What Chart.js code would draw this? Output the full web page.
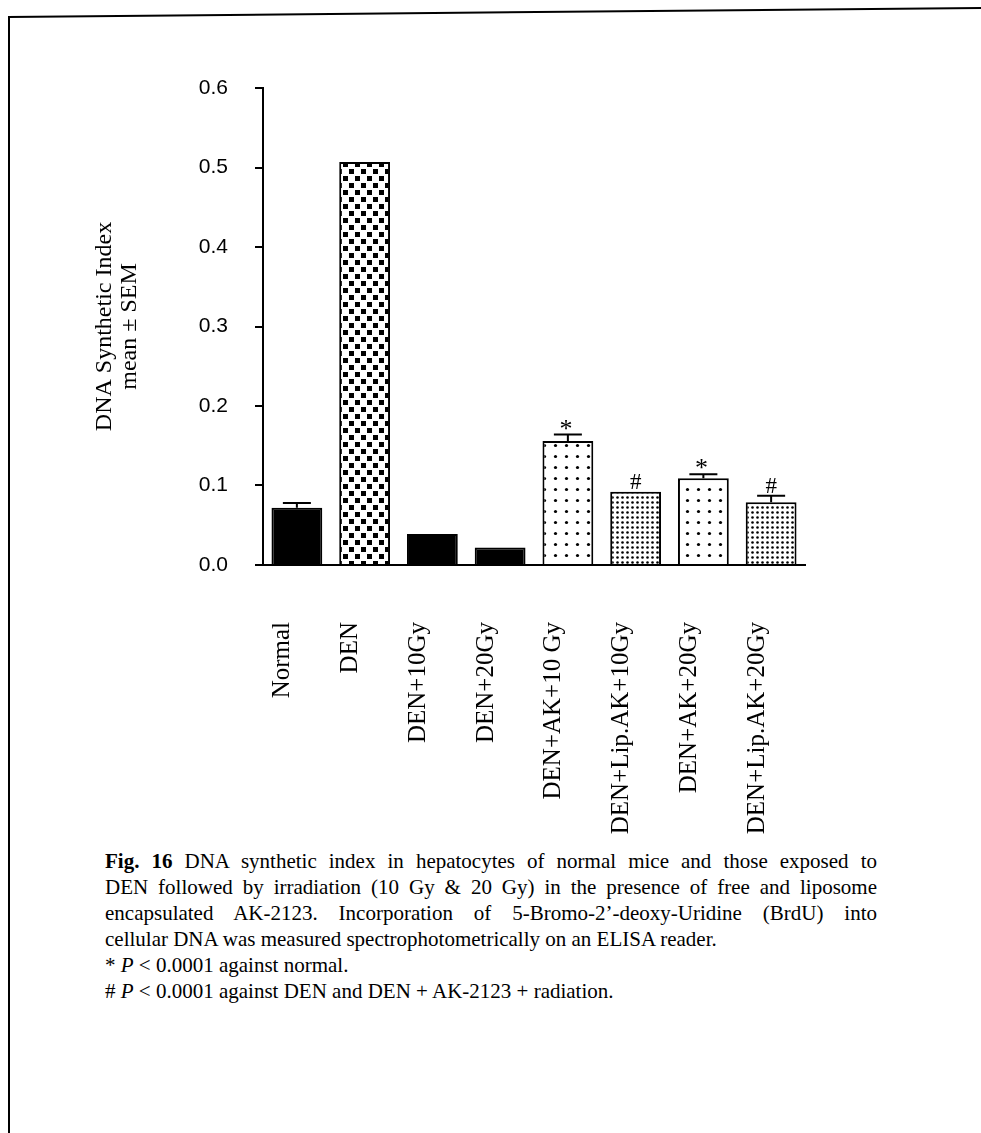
<!DOCTYPE html>
<html>
<head>
<meta charset="utf-8">
<script src="https://cdn.jsdelivr.net/npm/chart.js@4/dist/chart.umd.min.js"></script>
<style>
  body { margin: 0; background: #fff; width: 981px; height: 1133px; position: relative; overflow: hidden; }
  #chartDNA { position: absolute; left: 0; top: 0; }
  .frame-top { position: absolute; left: 8px; top: 16px; width: 980px; height: 2px; background: #000; transform-origin: 0 50%; transform: rotate(-0.53deg); }
  .frame-left { position: absolute; left: 8px; top: 16px; width: 2px; height: 1117px; background: #000; }
  .caption { position: absolute; left: 105px; top: 848px; width: 772px; font-family: "Liberation Serif", "Times New Roman", serif; font-size: 21px; line-height: 26px; color: #000; }
  .caption div { white-space: nowrap; }
  .caption .j { text-align: justify; text-align-last: justify; white-space: normal; }
</style>
</head>
<body>
<div class="frame-top"></div>
<div class="frame-left"></div>
<canvas id="chartDNA" width="981" height="846"></canvas>
<div class="caption">
  <div class="j"><b>Fig. 16</b> DNA synthetic index in hepatocytes of normal mice and those exposed to</div>
  <div class="j">DEN followed by irradiation (10 Gy &amp; 20 Gy) in the presence of free and liposome</div>
  <div class="j">encapsulated AK-2123. Incorporation of 5-Bromo-2’-deoxy-Uridine (BrdU) into</div>
  <div>cellular DNA was measured spectrophotometrically on an ELISA reader.</div>
  <div>* <i>P</i> &lt; 0.0001 against normal.</div>
  <div># <i>P</i> &lt; 0.0001 against DEN and DEN + AK-2123 + radiation.</div>
</div>
<script>
const groups = [
  "Normal",
  "DEN",
  "DEN+10Gy",
  "DEN+20Gy",
  "DEN+AK+10 Gy",
  "DEN+Lip.AK+10Gy",
  "DEN+AK+20Gy",
  "DEN+Lip.AK+20Gy",
];
const dnaIndex = [0.072, 0.507, 0.039, 0.022, 0.156, 0.092, 0.109, 0.079];
const sem = [0.006, 0, 0, 0, 0.008, 0, 0.005, 0.008];
const marks = ["", "", "", "", "*", "#", "*", "#"];
const fills = ["solid", "squares", "solid", "solid", "sparse", "dense", "sparse", "dense"];
const yTicks = [0, 0.1, 0.2, 0.3, 0.4, 0.5, 0.6];

const serif = '"Liberation Serif", "Times New Roman", serif';
const sans = '"Liberation Sans", Arial, sans-serif';

const makePattern = (w, h, draw) => {
  const c = document.createElement("canvas");
  c.width = w;
  c.height = h;
  const g = c.getContext("2d");
  g.fillStyle = "#fff";
  g.fillRect(0, 0, w, h);
  g.fillStyle = "#000";
  draw(g);
  return g.createPattern(c, "repeat");
};

const dot = (g, x, y, r) => {
  g.beginPath();
  g.arc(x, y, r, 0, Math.PI * 2);
  g.fill();
};

const patterns = {
  solid: "#000",
  squares: makePattern(12, 14, (g) => {
    g.fillRect(1, 1, 5, 5);
    g.fillRect(7, 8, 5, 5);
  }),
  sparse: makePattern(11, 11, (g) => dot(g, 5.5, 5.5, 1.6)),
  dense: makePattern(5, 5, (g) => dot(g, 2.5, 2.5, 1.3)),
};

const errorBars = {
  id: "errorBars",
  afterDatasetsDraw(chart) {
    const { ctx } = chart;
    const y = chart.scales.y;
    const bars = chart.getDatasetMeta(0).data;
    ctx.save();
    ctx.strokeStyle = "#000";
    ctx.fillStyle = "#000";
    ctx.lineWidth = 2;
    ctx.textAlign = "center";
    ctx.textBaseline = "alphabetic";
    bars.forEach((bar, i) => {
      const top = y.getPixelForValue(dnaIndex[i] + sem[i]);
      if (sem[i] > 0) {
        ctx.beginPath();
        ctx.moveTo(bar.x, bar.y);
        ctx.lineTo(bar.x, top);
        ctx.moveTo(bar.x - 14, top);
        ctx.lineTo(bar.x + 14, top);
        ctx.stroke();
      }
      if (marks[i] === "*") {
        ctx.font = `26px ${serif}`;
        ctx.fillText("*", bar.x - 2, top + 2);
      } else if (marks[i]) {
        ctx.font = `23px ${serif}`;
        ctx.fillText(marks[i], bar.x, top - 3);
      }
    });
    ctx.restore();
  },
};

new Chart(document.getElementById("chartDNA"), {
  type: "bar",
  data: {
    labels: groups,
    datasets: [
      {
        data: dnaIndex,
        backgroundColor: fills.map((f) => patterns[f]),
        borderColor: "#000",
        borderWidth: 2,
        borderSkipped: "bottom",
        barPercentage: 0.75,
        categoryPercentage: 1,
      },
    ],
  },
  options: {
    responsive: false,
    animation: false,
    layout: {
      padding: { left: 90, right: 176, top: 88, bottom: 0 },
    },
    scales: {
      x: {
        afterFit: (s) => {
          s.height = 281;
        },
        grid: { display: true, drawOnChartArea: false, drawTicks: false },
        border: { display: true, color: "#000", width: 2 },
        ticks: {
          color: "#000",
          font: { family: serif, size: 25 },
          minRotation: 90,
          maxRotation: 90,
          autoSkip: false,
          padding: 57,
          labelOffset: -14,
        },
      },
      y: {
        min: 0,
        max: 0.6,
        afterFit: (s) => {
          s.width = 173;
        },
        afterBuildTicks: (s) => {
          s.ticks = yTicks.map((v) => ({ value: v }));
        },
        grid: {
          drawOnChartArea: false,
          drawTicks: true,
          tickLength: 8,
          color: "#000",
          lineWidth: 2,
        },
        border: { display: true, color: "#000", width: 2 },
        ticks: {
          color: "#000",
          font: { family: sans, size: 21 },
          padding: 27,
          callback: (v) => v.toFixed(1),
        },
        title: {
          display: true,
          text: ["DNA Synthetic Index", "mean ± SEM"],
          color: "#000",
          font: { family: serif, size: 24, lineHeight: 1.05 },
          padding: { top: 2, bottom: 0 },
        },
      },
    },
    plugins: {
      legend: { display: false },
      tooltip: { enabled: false },
    },
  },
  plugins: [errorBars],
});
</script>
</body>
</html>
